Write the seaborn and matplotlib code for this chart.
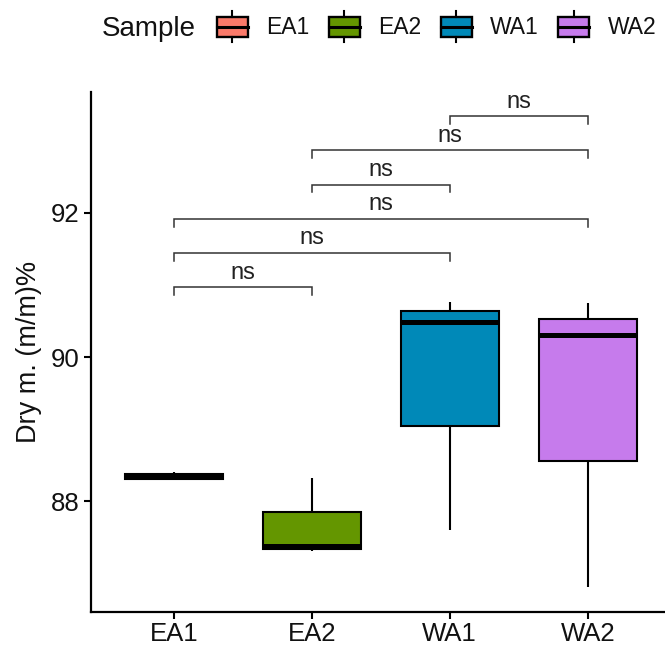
import numpy as np
import pandas as pd
import seaborn as sns
import matplotlib
matplotlib.use("Agg")
import matplotlib.pyplot as plt
from matplotlib.patches import Rectangle
from matplotlib.lines import Line2D
from matplotlib.legend_handler import HandlerBase

# ---- data (five-number values) ----
samples = ["EA1", "EA2", "WA1", "WA2"]
ea1 = [88.30, 88.31, 88.34, 88.37, 88.41]
ea2 = [87.31, 87.33, 87.37, 87.85, 88.32]
wa1 = [87.60, 89.04, 90.49, 90.64, 90.77]
wa2 = [86.81, 88.55, 90.31, 90.53, 90.75]
colors = ["#FA7A6A", "#649600", "#0089B8", "#C67BEC"]
pairs = [("EA1", "EA2"), ("EA1", "WA1"), ("EA1", "WA2"),
         ("EA2", "WA1"), ("EA2", "WA2"), ("WA1", "WA2")]
pair_labels = ["ns", "ns", "ns", "ns", "ns", "ns"]
yticks = [88, 90, 92]

df = pd.DataFrame({
    "Sample": np.repeat(samples, 5),
    "Dry": ea1 + ea2 + wa1 + wa2,
})

plt.rcParams["font.family"] = ["Liberation Sans", "DejaVu Sans"]

fig = plt.figure(figsize=(6.65, 6.47), dpi=100)
ax = fig.add_axes([91 / 665, 1 - 612 / 647, (665 - 91) / 665, (612 - 92) / 647])

sns.boxplot(data=df, x="Sample", y="Dry", hue="Sample", palette=colors,
            order=samples, hue_order=samples, legend=False, width=0.71,
            saturation=1, linewidth=1.5, linecolor="black", showcaps=False,
            whis=1.5,
            medianprops=dict(linewidth=3.6, color="black", solid_capstyle="butt"),
            ax=ax)

# significance brackets
step = 0.475
y0 = 90.97
tick = 0.11
pos = {s: i for i, s in enumerate(samples)}
for k, ((a, b), lab) in enumerate(zip(pairs, pair_labels)):
    yb = y0 + k * step
    xa, xb = pos[a], pos[b]
    ax.plot([xa, xa, xb, xb], [yb - tick, yb, yb, yb - tick],
            color="#333333", lw=1.1, solid_joinstyle="miter")
    ax.text((xa + xb) / 2, yb + 0.05, lab, ha="center", va="bottom",
            fontsize=17, color="#222222")

ax.set_xlim(-0.60, 3.56)
ax.set_ylim(86.46, 93.68)
ax.set_yticks(yticks)
ax.set_yticklabels([str(t) for t in yticks])
ax.set_xlabel("")
ax.set_ylabel("Dry m. (m/m)%", fontsize=19.5, color="#111111", labelpad=6)
ax.tick_params(axis="both", labelsize=18.5, width=1.5, length=5,
               colors="black", labelcolor="#111111")
ax.tick_params(axis="x", pad=2.5)
for side in ["top", "right"]:
    ax.spines[side].set_visible(False)
for side in ["left", "bottom"]:
    ax.spines[side].set_linewidth(1.6)
    ax.spines[side].set_color("black")


class BoxHandler(HandlerBase):
    def create_artists(self, legend, orig_handle, xdescent, ydescent,
                       width, height, fontsize, trans):
        fc = orig_handle.get_facecolor()
        x0, yy0 = -xdescent, -ydescent
        rect = Rectangle((x0, yy0), width, height, facecolor=fc,
                         edgecolor="black", lw=1.7, transform=trans)
        ym = yy0 + height / 2
        med = Line2D([x0, x0 + width], [ym, ym], color="black", lw=2.2,
                     transform=trans)
        xc = x0 + width / 2
        w1 = Line2D([xc, xc], [yy0 + height, yy0 + height + height * 0.3],
                    color="black", lw=1.5, transform=trans)
        w2 = Line2D([xc, xc], [yy0, yy0 - height * 0.3],
                    color="black", lw=1.5, transform=trans)
        return [rect, med, w1, w2]


handles = [Rectangle((0, 0), 1, 1, facecolor=c) for c in colors]
leg = fig.legend(handles, samples, handler_map={Rectangle: BoxHandler()},
                 loc="center left", bbox_to_anchor=(217 / 665, 1 - 28 / 647),
                 ncol=4, frameon=False, fontsize=16.5, borderpad=0,
                 borderaxespad=0, handlelength=1.35, handleheight=0.95,
                 handletextpad=0.8, columnspacing=0.85)
for t in leg.get_texts():
    t.set_color("#111111")
fig.text(102 / 665, 1 - 29 / 647, "Sample", fontsize=20, ha="left",
         va="center", color="#111111")

fig.savefig("out.png", dpi=100)
